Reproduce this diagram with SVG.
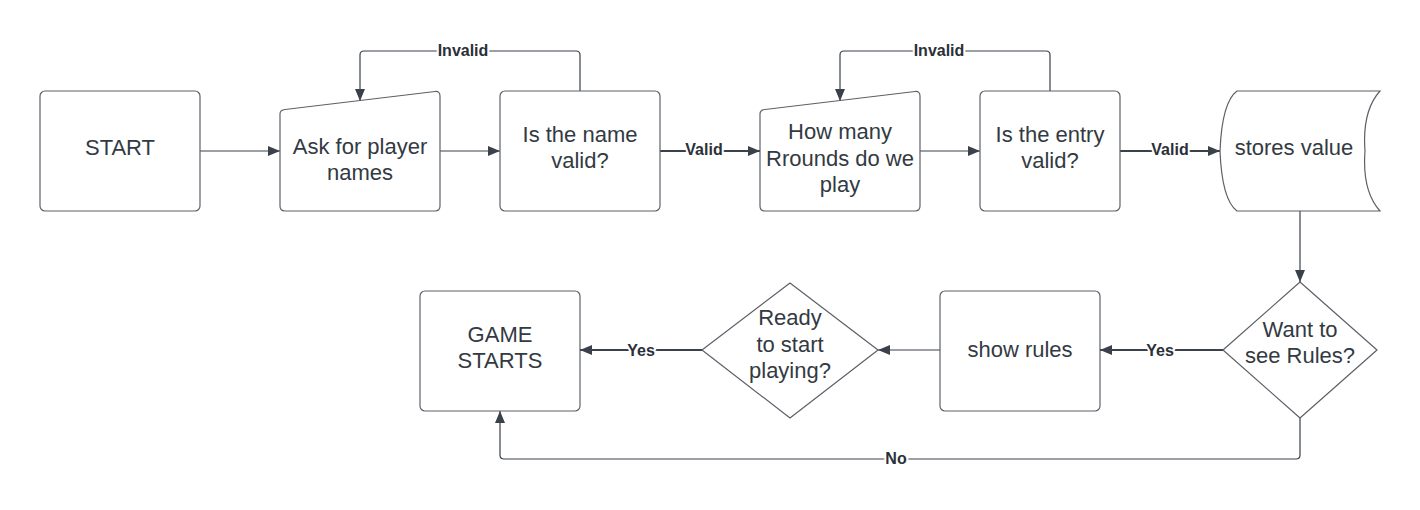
<svg xmlns="http://www.w3.org/2000/svg" width="1420" height="510" viewBox="0 0 1420 510">
<defs>
<marker id="ah" viewBox="0 0 12 10" refX="12" refY="5" markerWidth="12" markerHeight="10" markerUnits="userSpaceOnUse" orient="auto">
<path d="M0,0 L12,5 L0,10 Z" fill="#3a414a"/>
</marker>
<style>
.shape{fill:#fff;stroke:#5c6168;stroke-width:1.2}
.t{font-family:"Liberation Sans",Arial,sans-serif;font-size:22px;fill:#333a42;text-anchor:middle}
.conn{fill:none;stroke:#3a414a;stroke-width:1.2}
.thick{stroke-width:2}
.lbl{font-family:"Liberation Sans",Arial,sans-serif;font-size:16px;font-weight:bold;fill:#2b3038;text-anchor:middle;stroke:#fff;stroke-width:4px;paint-order:stroke;stroke-linejoin:round}
</style>
</defs>
<rect width="1420" height="510" fill="#fff"/>
<g id="connectors">
<path class="conn" d="M200,151 H280" marker-end="url(#ah)"/>
<path class="conn" d="M440,151 H500" marker-end="url(#ah)"/>
<path class="conn" d="M580,91 V55 Q580,51 576,51 H364 Q360,51 360,55 V101" marker-end="url(#ah)"/>
<text class="lbl" x="463" y="56">Invalid</text>
<path class="conn thick" d="M660,151 H760" marker-end="url(#ah)"/>
<text class="lbl" x="704" y="155">Valid</text>
<path class="conn" d="M920,151 H980" marker-end="url(#ah)"/>
<path class="conn" d="M1050,91 V55 Q1050,51 1046,51 H844 Q840,51 840,55 V101" marker-end="url(#ah)"/>
<text class="lbl" x="939" y="56">Invalid</text>
<path class="conn thick" d="M1120,151 H1220" marker-end="url(#ah)"/>
<text class="lbl" x="1170" y="155">Valid</text>
<path class="conn" d="M1300,211 V282" marker-end="url(#ah)"/>
<path class="conn thick" d="M1223,350 H1100" marker-end="url(#ah)"/>
<text class="lbl" x="1160" y="356">Yes</text>
<path class="conn" d="M940,350 H878" marker-end="url(#ah)"/>
<path class="conn thick" d="M702,350 H580" marker-end="url(#ah)"/>
<text class="lbl" x="641" y="356">Yes</text>
<path class="conn" d="M1300,418 V455 Q1300,459 1296,459 H504 Q500,459 500,455 V411" marker-end="url(#ah)"/>
<text class="lbl" x="896" y="464">No</text>
</g>
<g id="start">
<rect class="shape" x="40" y="91" width="160" height="120" rx="5"/>
<text class="t" x="120" y="155">START</text>
</g>
<g id="ask-names">
<path class="shape" d="M285,109.5 L435,91.5 Q440,91 440,96 V206 Q440,211 435,211 H285 Q280,211 280,206 V114 Q280,110 285,109.5 Z"/>
<text class="t" x="360" y="154">Ask for player</text>
<text class="t" x="360" y="180">names</text>
</g>
<g id="name-valid">
<rect class="shape" x="500" y="91" width="160" height="120" rx="5"/>
<text class="t" x="580" y="142">Is the name</text>
<text class="t" x="580" y="168">valid?</text>
</g>
<g id="how-many">
<path class="shape" d="M765,109.5 L915,91.5 Q920,91 920,96 V206 Q920,211 915,211 H765 Q760,211 760,206 V114 Q760,110 765,109.5 Z"/>
<text class="t" x="840" y="139">How many</text>
<text class="t" x="840" y="166">Rrounds do we</text>
<text class="t" x="840" y="192">play</text>
</g>
<g id="entry-valid">
<rect class="shape" x="980" y="91" width="140" height="120" rx="5"/>
<text class="t" x="1050" y="142">Is the entry</text>
<text class="t" x="1050" y="168">valid?</text>
</g>
<g id="stores-value">
<path class="shape" d="M1237,91 H1380 Q1362,111 1365,151 Q1362,191 1380,211 H1237 Q1222,200 1220,151 Q1222,102 1237,91 Z"/>
<text class="t" x="1294" y="155">stores value</text>
</g>
<g id="want-rules">
<path class="shape" d="M1300,282 L1377,350 L1300,418 L1223,350 Z" stroke-linejoin="round"/>
<text class="t" x="1300" y="337">Want to</text>
<text class="t" x="1300" y="363">see Rules?</text>
</g>
<g id="show-rules">
<rect class="shape" x="940" y="291" width="160" height="120" rx="5"/>
<text class="t" x="1020" y="357">show rules</text>
</g>
<g id="ready">
<path class="shape" d="M790,283 L878,350 L790,418 L702,350 Z" stroke-linejoin="round"/>
<text class="t" x="790" y="325">Ready</text>
<text class="t" x="790" y="352">to start</text>
<text class="t" x="790" y="378">playing?</text>
</g>
<g id="game-starts">
<rect class="shape" x="420" y="291" width="160" height="120" rx="5"/>
<text class="t" x="500" y="342">GAME</text>
<text class="t" x="500" y="368">STARTS</text>
</g>
</svg>
